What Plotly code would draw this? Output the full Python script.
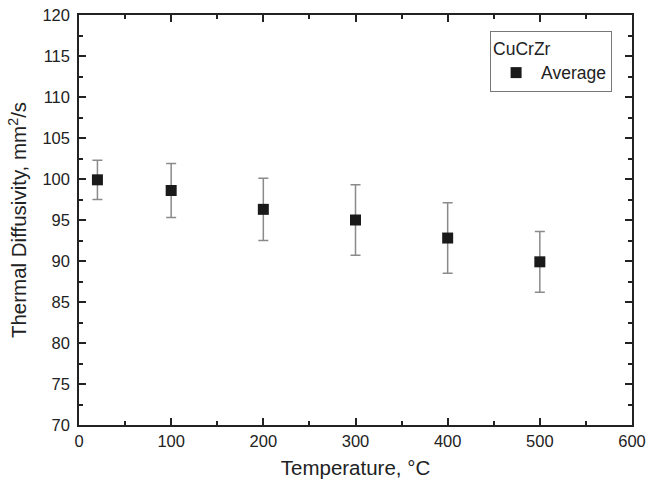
import plotly.graph_objects as go

temperature = [20, 100, 200, 300, 400, 500]
diffusivity = [99.9, 98.6, 96.3, 95.0, 92.8, 89.9]
err_plus = [2.4, 3.3, 3.8, 4.3, 4.3, 3.7]
err_minus = [2.4, 3.3, 3.8, 4.3, 4.3, 3.7]

fig = go.Figure()
fig.add_trace(go.Scatter(
    x=temperature, y=diffusivity, mode="markers", name="Average",
    marker=dict(symbol="square", size=11, color="#1a1a1a"),
    error_y=dict(type="data", symmetric=False, array=err_plus, arrayminus=err_minus,
                 color="#8a8a8a", thickness=1.5, width=5),
))

font = "Liberation Sans, Arial, sans-serif"
axis_common = dict(
    showline=True, linecolor="#222", linewidth=1.5, mirror="allticks",
    ticks="inside", ticklen=7, tickwidth=1.5, tickcolor="#222",
    showgrid=False, zeroline=False, automargin=False,
    ticklabeloverflow="allow",
    tickfont=dict(family=font, size=16.5, color="#222"),
)
fig.update_xaxes(
    range=[0, 600], dtick=100, tick0=0,
    minor=dict(ticks="inside", dtick=50, ticklen=4, tickwidth=1.5, tickcolor="#222"),
    title=dict(text="Temperature, °C", font=dict(family=font, size=20.5, color="#222"), standoff=12),
    **axis_common,
)
fig.update_yaxes(
    range=[70, 120], dtick=5, tick0=70,
    minor=dict(ticks="inside", dtick=2.5, ticklen=4, tickwidth=1.5, tickcolor="#222"),
    title=dict(text="Thermal Diffusivity, mm<sup>2</sup>/s", font=dict(family=font, size=20.5, color="#222"), standoff=10),
    ticklabelstandoff=4,
    **axis_common,
)
fig.update_layout(
    width=649, height=489,
    margin=dict(l=79, r=17, t=15, b=64),
    plot_bgcolor="white", paper_bgcolor="white",
    showlegend=True,
    legend=dict(
        title=dict(text="CuCrZr", font=dict(family=font, size=17.5, color="#222")),
        font=dict(family=font, size=17.5, color="#222"),
        x=0.964, y=0.961, xanchor="right", yanchor="top",
        itemwidth=40, tracegroupgap=0,
        bordercolor="#777", borderwidth=1, bgcolor="white",
    ),
)
fig.write_html("out.html", config={"displayModeBar": False},
               post_script="document.body.style.margin='0';")
